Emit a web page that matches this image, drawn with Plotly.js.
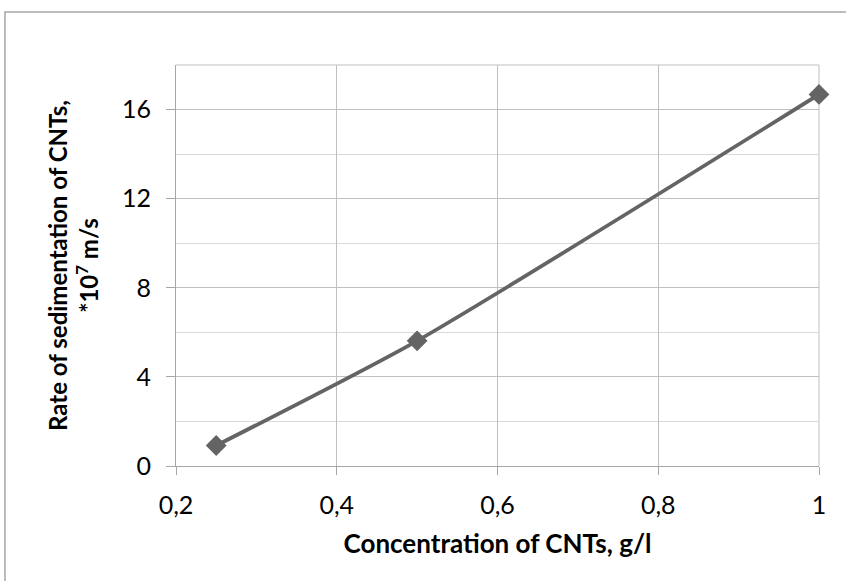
<!DOCTYPE html>
<html>
<head>
<meta charset="utf-8">
<script src="https://cdn.plot.ly/plotly-3.0.1.min.js"></script>
<style>html,body{margin:0;padding:0;background:#fff;}#chart{width:846px;height:581px;}</style>
</head>
<body>
<div id="chart"></div>
<script>
const concentration = [0.25, 0.5, 1];
const rate = [0.92, 5.62, 16.68];
const xTitle = "Concentration of CNTs, g/l";
const yTitle = "Rate of sedimentation of CNTs,<br>*10<sup>7</sup> m/s";

const trace = {
  x: concentration,
  y: rate,
  mode: "lines+markers",
  line: {color: "#646464", width: 3.8, shape: "spline", smoothing: 0.6},
  marker: {symbol: "diamond", size: 16, color: "#646464"},
  cliponaxis: false,
  hoverinfo: "skip"
};

const FONT = "Lato, Open Sans, sans-serif";

const layout = {
  width: 846, height: 581,
  margin: {l: 176, r: 27, t: 65, b: 115},
  paper_bgcolor: "#ffffff", plot_bgcolor: "#ffffff",
  separators: ",.",
  showlegend: false,
  font: {family: FONT, color: "#000"},
  xaxis: {
    range: [0.2, 1], dtick: 0.2, tick0: 0.2,
    showgrid: true, gridcolor: "#bfbfbf", gridwidth: 1,
    showline: true, linecolor: "#a6a6a6", linewidth: 1,
    ticks: "outside", ticklen: 8, tickcolor: "#a6a6a6",
    tickfont: {size: 25, color: "#000", family: FONT},
    ticklabelstandoff: 9,
    zeroline: false, mirror: false,
    title: {text: xTitle, font: {size: 26, color: "#000", family: FONT, weight: "bold"}, standoff: 16}
  },
  yaxis: {
    range: [0, 18], dtick: 4, tick0: 0,
    showgrid: true, gridcolor: "#bfbfbf", gridwidth: 1,
    minor: {dtick: 2, showgrid: true, gridcolor: "#d9d9d9", ticks: ""},
    showline: true, linecolor: "#a6a6a6", linewidth: 1,
    ticks: "outside", ticklen: 9, tickcolor: "#a6a6a6",
    tickfont: {size: 25, color: "#000", family: FONT},
    ticklabelstandoff: 10,
    zeroline: false,
    title: {text: yTitle, font: {size: 24, color: "#000", family: FONT, weight: "bold"}, standoff: 16}
  },
  shapes: [
    {type: "rect", xref: "paper", yref: "paper", x0: -0.266, x1: 1.2, y0: -0.5, y1: 1.132,
     line: {color: "#a6a6a6", width: 1.5}, fillcolor: "rgba(0,0,0,0)", layer: "below"},
    {type: "line", xref: "paper", yref: "paper", x0: 1, x1: 1, y0: 0, y1: 1,
     line: {color: "#bfbfbf", width: 1}, layer: "below"},
    {type: "line", xref: "paper", yref: "paper", x0: 0, x1: 1, y0: 1, y1: 1,
     line: {color: "#bfbfbf", width: 1}, layer: "below"}
  ]
};

Plotly.newPlot("chart", [trace], layout, {staticPlot: true, displayModeBar: false});
</script>
</body>
</html>
